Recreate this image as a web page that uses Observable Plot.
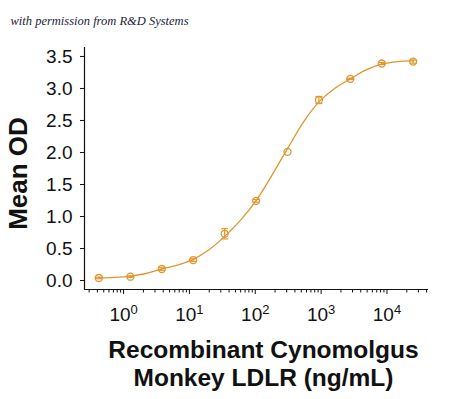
<!DOCTYPE html>
<html>
<head>
<meta charset="utf-8">
<script src="https://cdn.jsdelivr.net/npm/d3@7"></script>
<script src="https://cdn.jsdelivr.net/npm/@observablehq/plot@0.6"></script>
<style>
  html, body { margin: 0; padding: 0; background: #fff; }
  #chart { width: 450px; height: 399px; }
</style>
</head>
<body>
<div id="chart"></div>
<script>
// ---- data ----
const concentration = [0.42, 1.27, 3.81, 11.4, 34.3, 103, 309, 926, 2778, 8333, 25000];
const meanOD       = [0.04, 0.06, 0.18, 0.32, 0.73, 1.245, 2.01, 2.82, 3.15, 3.39, 3.42];
const errorOD      = [0.012, 0.01, 0.02, 0.02, 0.08, 0.02, 0.0, 0.055, 0.01, 0.015, 0.025];

// fitted curve
const fitX = [0.42, 0.73, 1.27, 2.2, 3.81, 6.6, 11.4, 19.8, 34.3, 59.4, 103, 178, 309, 535, 926, 1604, 2778, 4811, 8333, 14434, 25000];
const fitY = [0.04, 0.05, 0.07, 0.11, 0.18, 0.24, 0.33, 0.48, 0.69, 0.94, 1.25, 1.64, 2.06, 2.47, 2.79, 3.00, 3.15, 3.29, 3.38, 3.42, 3.43];

const yTicks = [0, 0.5, 1, 1.5, 2, 2.5, 3, 3.5];
const xMajorTicks = [1, 10, 100, 1000, 10000];
const xMinorTicks = [0.3,0.4,0.5,0.6,0.7,0.8,0.9,2,3,4,5,6,7,8,9,20,30,40,50,60,70,80,90,200,300,400,500,600,700,800,900,2000,3000,4000,5000,6000,7000,8000,9000,20000,30000,40000];
const xDomain = [0.255, 42750];
const yDomain = [-0.14, 3.64];

const yTitle = "Mean OD";
const xTitle = "Recombinant Cynomolgus\nMonkey LDLR (ng/mL)";
const caption = "with permission from R&D Systems";

// ---- build ----
const points = concentration.map((c, i) => ({x: c, y: meanOD[i], e: errorOD[i]}));
const fit = fitX.map((c, i) => ({x: c, y: fitY[i]}));
const color = "#df962f";
const cap = { draw(ctx, size) { const w = Math.sqrt(size / Math.PI); ctx.moveTo(-w, 0); ctx.lineTo(w, 0); } };

const chart = Plot.plot({
  width: 450,
  height: 399,
  marginLeft: 84,
  marginRight: 22,
  marginTop: 47,
  marginBottom: 110,
  style: { fontFamily: "'Liberation Sans', Arial, sans-serif", background: "#fff", color: "#111" },
  x: { type: "log", domain: xDomain },
  y: { domain: yDomain },
  marks: [
    Plot.ruleX([xDomain[0]], { stroke: "#111", strokeWidth: 1.2 }),
    Plot.ruleY([yDomain[0]], { stroke: "#111", strokeWidth: 1.2 }),
    Plot.axisY({ ticks: yTicks, tickFormat: d => d.toFixed(1), tickSize: 4, tickPadding: 8, fontSize: 19, label: null, stroke: "#111" }),
    Plot.axisX({ ticks: xMinorTicks, tickFormat: () => "", tickSize: 3.5, label: null, stroke: "#111" }),
    Plot.axisX({ ticks: xMajorTicks, tickFormat: d => "10^" + Math.round(Math.log10(d)), tickSize: 5, tickPadding: 13, fontSize: 19, label: null, stroke: "#111", lineAnchor: "top" }),
    Plot.line(fit, { x: "x", y: "y", curve: "catmull-rom", stroke: color, strokeWidth: 1.3 }),
    Plot.ruleX(points.filter(d => d.e > 0), { x: "x", y1: d => d.y - d.e, y2: d => d.y + d.e, stroke: color, strokeWidth: 1.2 }),
    Plot.dot(points.filter(d => d.e > 0), { x: "x", y: d => d.y + d.e, symbol: cap, r: 3.5, stroke: color, strokeWidth: 1.2 }),
    Plot.dot(points.filter(d => d.e > 0), { x: "x", y: d => d.y - d.e, symbol: cap, r: 3.5, stroke: color, strokeWidth: 1.2 }),
    Plot.dot(points, { x: "x", y: "y", r: 3.5, stroke: color, fill: "none", strokeWidth: 1.3 }),
    Plot.text([yTitle], { text: d => d, frameAnchor: "left", textAnchor: "middle", rotate: -90, dx: -66, dy: 5, fontSize: 26, fontWeight: "bold", fill: "#111" }),
    Plot.text([xTitle], { text: d => d, frameAnchor: "bottom", textAnchor: "middle", dx: 7, dy: 96, lineHeight: 1.12, fontSize: 24.5, fontWeight: "bold", fill: "#111" }),
    Plot.text([caption], { text: d => d, frameAnchor: "top-left", textAnchor: "start", dx: -74, dy: -31, fontSize: 12.5, fontStyle: "italic", fontFamily: "'Liberation Serif', 'DejaVu Serif', serif", fill: "#1c1c3a" })
  ]
});

// superscript exponents on x tick labels
d3.select(chart).selectAll("text").each(function() {
  const t = this.textContent;
  const m = /^10\^(-?\d+)$/.exec(t);
  if (m) {
    const sel = d3.select(this);
    sel.text("10");
    sel.append("tspan").attr("font-size", 13).attr("dy", "-0.55em").text(m[1]);
  }
});

document.getElementById("chart").appendChild(chart);
</script>
</body>
</html>
